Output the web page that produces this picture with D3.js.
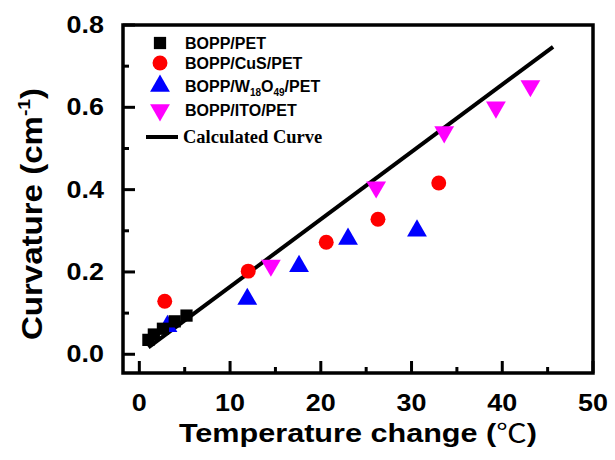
<!DOCTYPE html>
<html><head><meta charset="utf-8">
<script src="https://cdn.jsdelivr.net/npm/d3@7/dist/d3.min.js"></script>
<style>body{margin:0;background:#fff}</style>
</head><body>
<svg id="c" width="615" height="460"></svg>
<script>
const xTicks = [0,10,20,30,40,50];
const yTicks = [0.0,0.2,0.4,0.6,0.8];
const pet  = [[1.0,0.035],[1.6,0.048],[2.6,0.062],[3.9,0.08],[5.2,0.094]];
const cus  = [[2.8,0.129],[12.0,0.202],[20.6,0.272],[26.3,0.328],[33.0,0.416]];
const w18  = [[3.1,0.068],[11.9,0.134],[17.6,0.214],[23.0,0.28],[30.6,0.3]];
const ito  = [[14.5,0.216],[26.1,0.406],[33.6,0.54],[39.3,0.6],[43.1,0.652]];
const curve = [[1.0,0.017],[45.6,0.747]];

const svg = d3.select("#c");
const L=123,R=593,T=25,B=373;
const x = d3.scaleLinear().domain([-1.8,50]).range([L,R]);
const y = d3.scaleLinear().domain([-0.0455,0.8]).range([B,T]);
const F = "'Liberation Sans',Arial,sans-serif";

const g = svg.append("g");
d3.range(0,50.1,5).forEach(v=>{
  const major = v%10===0;
  g.append("line").attr("x1",x(v)).attr("x2",x(v)).attr("y1",B).attr("y2",B-(major?12:6))
   .attr("stroke","#000").attr("stroke-width",3);
});
d3.range(0,0.81,0.1).forEach(v=>{
  const major = Math.round(v*10)%2===0;
  g.append("line").attr("x1",L).attr("x2",L+(major?12:6)).attr("y1",y(v)).attr("y2",y(v))
   .attr("stroke","#000").attr("stroke-width",3);
});
svg.append("rect").attr("x",L).attr("y",T).attr("width",R-L).attr("height",B-T)
  .attr("fill","none").attr("stroke","#000").attr("stroke-width",3.5);

// tick labels
xTicks.forEach(v=>{
  svg.append("text").attr("transform",`translate(${x(v)},411) scale(1.17,1)`).attr("text-anchor","middle")
   .attr("font-family",F).attr("font-weight","bold").attr("font-size",23).text(v);
});
yTicks.forEach(v=>{
  svg.append("text").attr("transform",`translate(104,${y(v)+8}) scale(1.17,1)`).attr("text-anchor","end")
   .attr("font-family",F).attr("font-weight","bold").attr("font-size",23).text(v.toFixed(1));
});

// titles
const xt = svg.append("text").attr("transform","translate(358,442) scale(1.2,1)").attr("text-anchor","middle")
  .attr("font-family",F).attr("font-weight","bold").attr("font-size",25.5);
xt.append("tspan").text("Temperature change (");
xt.append("tspan").attr("font-family","'Noto Sans CJK SC'").attr("font-weight","normal").text("℃");
xt.append("tspan").text(")");
const yt = svg.append("text").attr("transform","translate(42,214) rotate(-90) scale(1.14,1)").attr("text-anchor","middle")
  .attr("font-family",F).attr("font-weight","bold").attr("font-size",29);
yt.append("tspan").text("Curvature (cm");
yt.append("tspan").attr("font-size",17).attr("dy",-12).text("-1");
yt.append("tspan").attr("dy",12).text(")");

// curve
svg.append("path").datum(curve).attr("d",d3.line().x(d=>x(d[0])).y(d=>y(d[1])))
  .attr("stroke","#000").attr("stroke-width",4).attr("fill","none");

// markers
const sq = d3.symbol().type(d3.symbolSquare).size(150);
const ci = d3.symbol().type(d3.symbolCircle).size(175);
const tri = d3.symbol().type(d3.symbolTriangle).size(170);
function pts(data, sym, color, rot){
  svg.append("g").selectAll("path").data(data).join("path")
   .attr("d",sym).attr("fill",color)
   .attr("transform",d=>`translate(${x(d[0])},${y(d[1])})${rot?" rotate(180)":""}`);
}
pts(ito,tri,"#ff00ff",true);
pts(w18,tri,"#0000ff",false);
pts(cus,ci,"#ff0000",false);
pts(pet,sq,"#000000",false);

// legend
const leg = [
  {s:sq,c:"#000",r:false,y:43,t:[["BOPP/PET"]]},
  {s:ci,c:"#ff0000",r:false,y:63,t:[["BOPP/CuS/PET"]]},
  {s:tri,c:"#0000ff",r:false,y:86,t:[["BOPP/W"],["18",1],["O"],["49",1],["/PET"]]},
  {s:tri,c:"#ff00ff",r:true,y:110,t:[["BOPP/ITO/PET"]]}
];
leg.forEach(l=>{
  svg.append("path").attr("d",l.s).attr("fill",l.c)
    .attr("transform",`translate(160,${l.y})${l.r?" rotate(180)":""}`);
  const tx = svg.append("text").attr("x",185).attr("y",l.y+6)
    .attr("font-family",F).attr("font-weight","bold").attr("font-size",16);
  let sub=false;
  l.t.forEach(p=>{
    const ts = tx.append("tspan").text(p[0]);
    if(p[1]){ ts.attr("font-size",10).attr("dy",sub?0:4); sub=true; }
    else { if(sub){ ts.attr("dy",-4); } sub=false; }
  });
});
svg.append("line").attr("x1",146).attr("x2",178).attr("y1",137).attr("y2",137)
  .attr("stroke","#000").attr("stroke-width",4);
svg.append("text").attr("x",183).attr("y",143).attr("font-family","'Liberation Serif','Times New Roman',serif")
  .attr("font-weight","bold").attr("font-size",18.5).text("Calculated Curve");
</script>
</body></html>
